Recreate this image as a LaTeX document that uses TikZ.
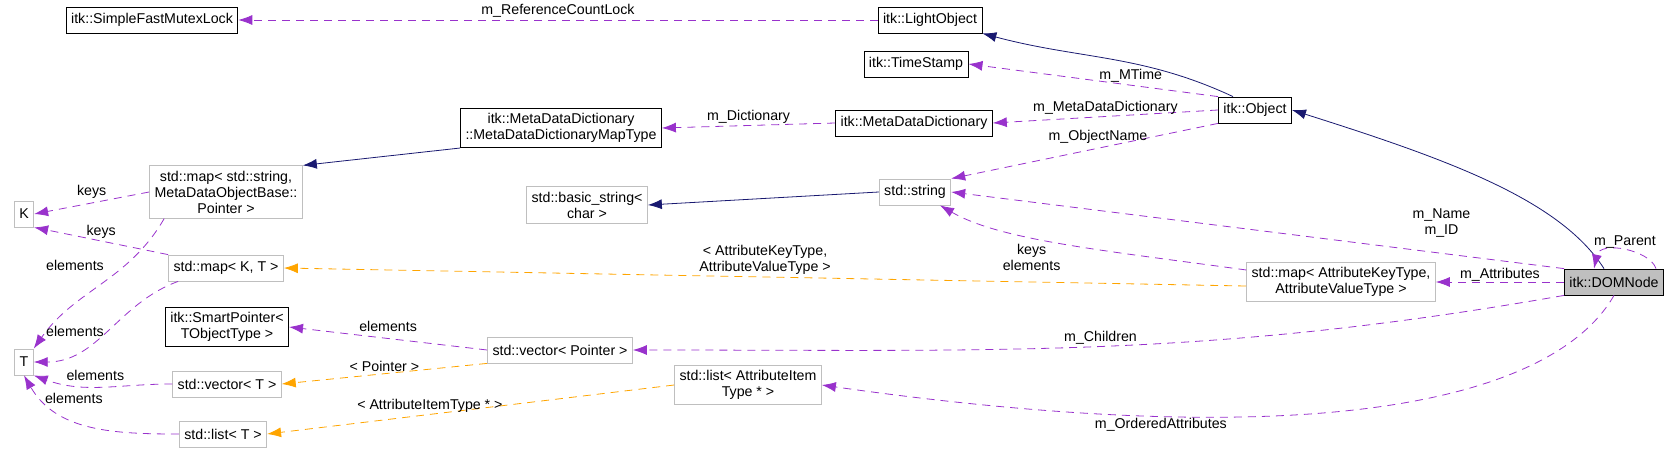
\documentclass[tikz,border=0pt]{standalone}
\usepackage{fontspec}
\setmainfont{Liberation Sans}
\usetikzlibrary{positioning,calc,arrows.meta}
\definecolor{navyblue}{RGB}{25,25,112}
\definecolor{darkorchid}{RGB}{153,50,204}
\definecolor{orangeamb}{RGB}{255,165,0}
\definecolor{boxgray}{RGB}{191,191,191}

\tikzset{
  cls/.style={draw=black,fill=white,align=center,inner sep=2.5pt,minimum height=13pt,font=\fontsize{7.1}{8}\selectfont},
  tpl/.style={cls,draw=boxgray},
  inherit/.style={draw=navyblue,-{Latex[length=7pt,width=5pt]}},
  member/.style={draw=darkorchid,dashed,dash pattern=on 4pt off 3pt,-{Latex[length=7pt,width=5pt]}},
  instance/.style={draw=orangeamb,dashed,dash pattern=on 4pt off 3pt,-{Latex[length=7pt,width=5pt]}},
  lbl/.style={align=center,font=\fontsize{7.1}{8}\selectfont,inner sep=0pt}
}

\begin{document}
\begin{tikzpicture}[x=0.5pt,y=-0.5pt]
        \useasboundingbox (0,0) rectangle (1680,455);

        % Classes
        \node[cls] (mutex) at (152,20) {itk::SimpleFastMutexLock};
        \node[cls] (light) at (930,20) {itk::LightObject};
        \node[cls] (stamp) at (916,64) {itk::TimeStamp};
        \node[cls] (maptype) at (561,128) {itk::MetaDataDictionary\\::MetaDataDictionaryMapType};
        \node[cls] (dict) at (914,123) {itk::MetaDataDictionary};
        \node[cls] (object) at (1255,110) {itk::Object};
        \node[tpl] (mapstr) at (226,192) {std::map< std::string,\\ MetaDataObjectBase::\\Pointer >};
        \node[tpl] (K) at (24,214) {K};
        \node[tpl] (basic) at (587,205) {std::basic\_string<\\ char >};
        \node[tpl] (string) at (915,192) {std::string};
        \node[tpl] (mapKT) at (226,268) {std::map< K, T >};
        \node[cls] (smart) at (227,327) {itk::SmartPointer<\\ TObjectType >};
        \node[tpl] (T) at (24,362) {T};
        \node[tpl] (vecptr) at (560,350) {std::vector< Pointer >};
        \node[tpl] (vecT) at (227,384) {std::vector< T >};
        \node[tpl] (listT) at (223,434) {std::list< T >};
        \node[tpl] (listattr) at (748,385) {std::list< AttributeItem\\Type * >};
        \node[tpl] (mapattr) at (1341,282) {std::map< AttributeKeyType,\\AttributeValueType >};
        \node[cls,fill=boxgray] (dom) at (1614,282) {itk::DOMNode};

        % Inheritance
        \draw[inherit] ($(object.north west)+(15,0)$) to[out=155,in=-15] (light.south east);
        \draw[inherit] ($(dom.north)+(-10,0)$) .. controls (1560,200) and (1450,160) .. (object.east);
        \draw[inherit] (maptype.south west) -- (mapstr.north east);
        \draw[inherit] (string.west) -- (basic.east);

        % Members
        \draw[member] (light.west) -- node[lbl,above=1pt] {m\_ReferenceCountLock} (mutex.east);
        \draw[member] (object.north west) -- node[lbl,above=1pt,pos=0.35] {m\_MTime} (stamp.east);
        \draw[member] (object.west) -- node[lbl,above=1pt] {m\_MetaDataDictionary} (dict.east);
        \draw[member] (dict.west) -- node[lbl,above=1pt] {m\_Dictionary} (maptype.east);
        \draw[member] (object.south west) -- node[lbl,above=2pt,pos=0.45] {m\_ObjectName} (string.north east);
        \draw[member] (mapstr.west) -- node[lbl,above=2pt] {keys} (K.east);
        \draw[member] (mapKT.north west) -- node[lbl,above=1pt] {keys} (K.south east);
        \draw[member] ($(mapstr.south west)+(15,0)$) to[out=240,in=55] (T.north east);
        \node[lbl] (elemA) at (75,265) {elements};
        \draw[member] ($(mapKT.south west)+(10,0)$) to[out=200,in=0] (T.east);
        \node[lbl] (elemB) at (75,331) {elements};
        \draw[member] (vecT.west) to[out=180,in=-20] node[lbl,above=3pt,pos=0.55] {elements} (T.south east);
        \draw[member] (listT.west) to[out=180,in=-60] node[lbl,above=8pt,pos=0.6] {elements} (T.south);
        \draw[member] (dom.north west) -- node[lbl,pos=0.2,above=8pt] {m\_Name\\m\_ID} (string.east);
        \draw[member] ($(mapattr.north west)+(0,8)$) .. controls (1100,250) and (1000,240) .. node[lbl,pos=0.6,below=3pt] {keys\\elements} ($(string.south)+(25,0)$);
        \draw[member] (dom.west) -- node[lbl,above=0pt] {m\_Attributes} (mapattr.east);
        \draw[member] (dom.south west) to[out=190,in=0] node[lbl,above=1pt,pos=0.5] {m\_Children} (vecptr.east);
        \draw[member] (vecptr.west) -- node[lbl,above=3pt] {elements} (smart.east);
        \draw[member] (dom.south) .. controls (1560,390) and (1350,460) .. node[lbl,pos=0.75,below=1pt] {m\_OrderedAttributes} (listattr.east);
        \draw[member] ($(dom.north east)+(-8,0)$) .. controls (1650,250) and (1600,240) .. node[lbl,pos=0.5,above=1pt] {m\_Parent} ($(dom.north)+(-20,0)$);

        % Template instances
        \draw[instance] ($(mapattr.west)+(0,4)$) -- node[lbl,above=1pt] {< AttributeKeyType,\\AttributeValueType >} (mapKT.east);
        \draw[instance] (vecptr.south west) -- node[lbl,above=1pt] {< Pointer >} (vecT.east);
        \draw[instance] (listattr.west) -- node[lbl,above=1pt,pos=0.6] {< AttributeItemType * >} (listT.east);
\end{tikzpicture}
\end{document}
